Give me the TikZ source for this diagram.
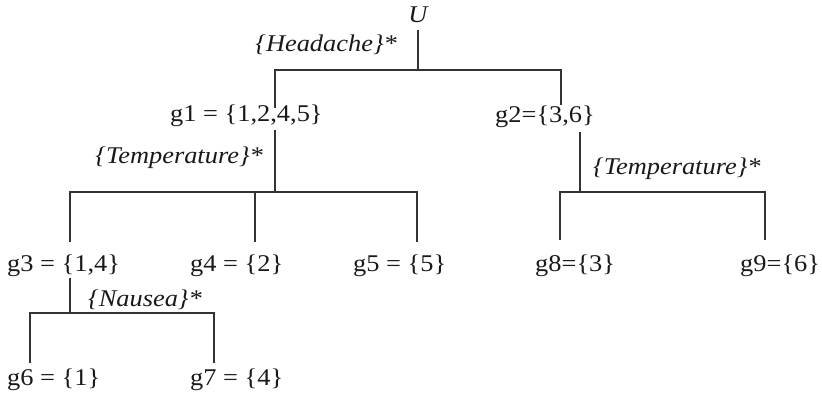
\documentclass[tikz,border=0pt]{standalone}
\usepackage{fontspec}
\setmainfont{Liberation Serif}
\begin{document}
\begin{tikzpicture}[x=1pt,y=-1pt,
  lab/.style={inner sep=0pt,text=black!90,font=\fontsize{24}{28}\selectfont},
  attr/.style={lab,font=\fontsize{24}{28}\selectfont\itshape},
  conn/.style={draw=black!80,line width=1.3pt}]
\useasboundingbox (0,0) rectangle (822,398);
% nodes
\node[attr,anchor=base,xscale=1.1,transform shape] (U) at (418,23) {U};
\node[attr,anchor=base east,xscale=1.1,transform shape] (aH) at (397,52) {\{Headache\}*};
\node[lab,anchor=base west,xscale=1.1,transform shape] (g1) at (170,122) {g1 = \{1,2,4,5\}};
\node[lab,anchor=base west,xscale=1.1,transform shape] (g2) at (495,123) {g2=\{3,6\}};
\node[attr,anchor=base east,xscale=1.1,transform shape] (aT1) at (263,164) {\{Temperature\}*};
\node[attr,anchor=base west,xscale=1.1,transform shape] (aT2) at (593,175) {\{Temperature\}*};
\node[lab,anchor=base west,xscale=1.1,transform shape] (g3) at (7,272) {g3 = \{1,4\}};
\node[lab,anchor=base west,xscale=1.1,transform shape] (g4) at (190,272) {g4 = \{2\}};
\node[lab,anchor=base west,xscale=1.1,transform shape] (g5) at (353,272) {g5 = \{5\}};
\node[lab,anchor=base west,xscale=1.1,transform shape] (g8) at (535,272) {g8=\{3\}};
\node[lab,anchor=base west,xscale=1.1,transform shape] (g9) at (740,272) {g9=\{6\}};
\node[attr,anchor=base west,xscale=1.1,transform shape] (aN) at (88,306) {\{Nausea\}*};
\node[lab,anchor=base west,xscale=1.1,transform shape] (g6) at (7,385) {g6 = \{1\}};
\node[lab,anchor=base west,xscale=1.1,transform shape] (g7) at (190,385) {g7 = \{4\}};
% connector anchor points
\coordinate (U-s) at (418,30);
\coordinate (g1-n) at (275,108);
\coordinate (g2-n) at (561,105);
\coordinate (g1-s) at (275,130);
\coordinate (g2-s) at (580,132);
\coordinate (g3-n) at (70,242);
\coordinate (g4-n) at (255,242);
\coordinate (g5-n) at (417,242);
\coordinate (g8-n) at (560,240);
\coordinate (g9-n) at (765,240);
\coordinate (g3-s) at (70,278);
\coordinate (g6-n) at (30,363);
\coordinate (g7-n) at (214,363);
% splits
\draw[conn] (U-s) -- (418,70);
\draw[conn] (g1-n) |- (g2-n |- 0,70) -- (g2-n);
\draw[conn] (g1-s) -- (275,192);
\draw[conn] (g3-n) |- (g5-n |- 0,192) -- (g5-n);
\draw[conn] (g4-n) -- (g4-n |- 0,192);
\draw[conn] (g2-s) -- (580,192);
\draw[conn] (g8-n) |- (g9-n |- 0,192) -- (g9-n);
\draw[conn] (g3-s) -- (70,313);
\draw[conn] (g6-n) |- (g7-n |- 0,313) -- (g7-n);
\end{tikzpicture}
\end{document}
